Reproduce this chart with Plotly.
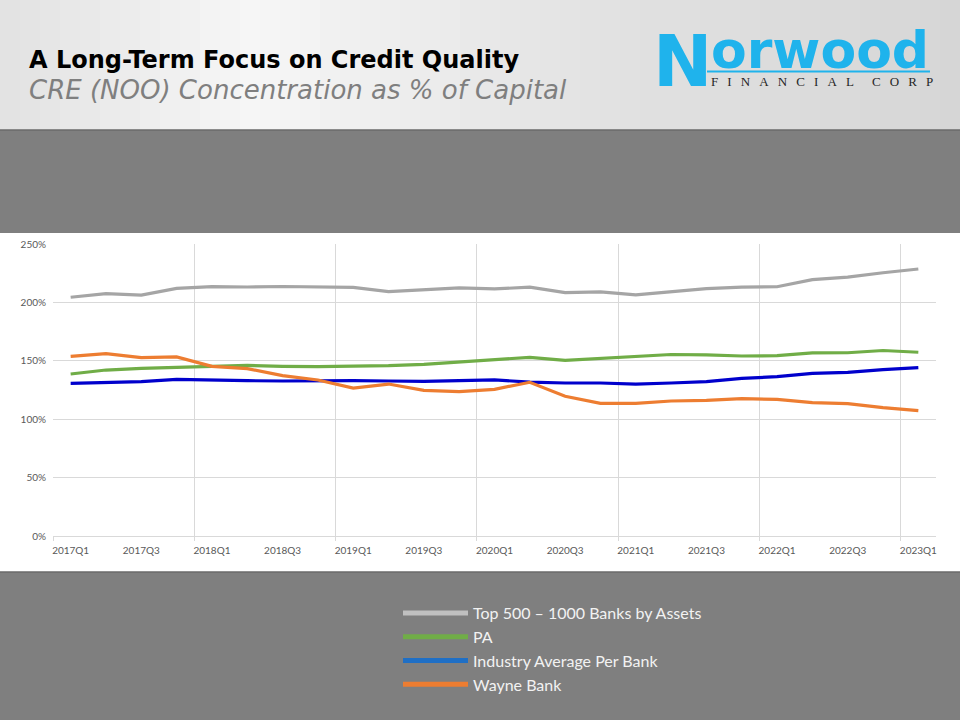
import plotly.graph_objects as go

# ---------------- data ----------------
quarters = ["2017Q1", "2017Q2", "2017Q3", "2017Q4",
            "2018Q1", "2018Q2", "2018Q3", "2018Q4",
            "2019Q1", "2019Q2", "2019Q3", "2019Q4",
            "2020Q1", "2020Q2", "2020Q3", "2020Q4",
            "2021Q1", "2021Q2", "2021Q3", "2021Q4",
            "2022Q1", "2022Q2", "2022Q3", "2022Q4",
            "2023Q1"]

top500 = [204.4, 207.5, 206.3, 212.0, 213.5, 213.2, 213.6, 213.3, 212.8, 209.2,
          210.8, 212.5, 211.6, 213.0, 208.4, 209.0, 206.5, 209.3, 211.8, 213.0,
          213.4, 219.5, 221.6, 225.4, 228.6]
pa = [138.7, 142.1, 143.6, 144.5, 145.0, 146.0, 145.3, 145.0, 145.5, 145.8,
      147.0, 149.0, 151.2, 153.0, 150.4, 152.1, 153.7, 155.4, 155.0, 154.1,
      154.4, 156.7, 156.9, 158.8, 157.3]
industry = [130.7, 131.3, 132.1, 134.1, 133.3, 133.0, 132.7, 133.0, 133.0, 132.7,
            132.4, 133.0, 133.6, 131.8, 131.0, 131.0, 130.1, 131.0, 132.1, 135.0,
            136.4, 139.3, 140.1, 142.4, 144.1]
wayne = [153.8, 156.1, 152.7, 153.3, 145.3, 143.3, 137.3, 133.6, 126.7, 130.1,
         124.7, 123.6, 125.6, 131.6, 119.6, 113.6, 113.6, 115.6, 116.2, 117.6,
         117.0, 114.2, 113.3, 109.9, 107.3]

series_names = ["Top 500 \u2013 1000 Banks by Assets", "PA",
                "Industry Average Per Bank", "Wayne Bank"]
series_values = [top500, pa, industry, wayne]
line_colors = ["#a5a5a5", "#70ad47", "#0000cc", "#ed7d31"]
legend_colors = ["#c0c0c0", "#70ad47", "#1f6fc5", "#ed7d31"]

y_ticks = [0, 50, 100, 150, 200, 250]
title_text = "A Long-Term Focus on Credit Quality"
subtitle_text = "CRE (NOO) Concentration as % of Capital"

# ---------------- geometry helpers ----------------
W, H = 960, 720
L, R, T, B = 53, 936, 244, 536


def px2x(px):
    return (px - L) / (R - L)


def py2y(py):
    return (B - py) / (B - T)


xs = list(range(len(quarters)))

fig = go.Figure()
for name, vals, col in zip(series_names, series_values, line_colors):
    fig.add_trace(go.Scatter(x=xs, y=vals, mode="lines", name=name,
                             line=dict(color=col, width=3.2),
                             showlegend=False))
for name, col in zip(series_names, legend_colors):
    fig.add_trace(go.Scatter(x=[None], y=[None], mode="lines", name=name,
                             line=dict(color=col, width=5), showlegend=True))

shapes = []


def lerp(c1, c2, t):
    return tuple(int(round(a + (b - a) * t)) for a, b in zip(c1, c2))


stops = [(0, (226, 226, 226)), (250, (246, 246, 246)), (600, (226, 226, 226)),
         (960, (214, 214, 214))]
n = 48
for i in range(n):
    x0 = i * W / n
    x1 = (i + 1) * W / n
    xm = (x0 + x1) / 2
    for (a, ca), (b, cb) in zip(stops[:-1], stops[1:]):
        if a <= xm <= b:
            c = lerp(ca, cb, (xm - a) / (b - a))
            break
    shapes.append(dict(type="rect", xref="paper", yref="paper",
                       x0=px2x(x0), x1=px2x(x1 + 0.5), y0=py2y(130), y1=py2y(0),
                       fillcolor="rgb(%d,%d,%d)" % c, line=dict(width=0),
                       layer="below"))
shapes.append(dict(type="rect", xref="paper", yref="paper",
                   x0=px2x(0), x1=px2x(W), y0=py2y(233), y1=py2y(130),
                   fillcolor="#7f7f7f", line=dict(width=0), layer="below"))
shapes.append(dict(type="line", xref="paper", yref="paper",
                   x0=px2x(0), x1=px2x(W), y0=py2y(130), y1=py2y(130),
                   line=dict(color="#6a6a6a", width=1.5), layer="below"))
shapes.append(dict(type="rect", xref="paper", yref="paper",
                   x0=px2x(0), x1=px2x(W), y0=py2y(H), y1=py2y(572),
                   fillcolor="#7f7f7f", line=dict(width=0), layer="below"))
shapes.append(dict(type="line", xref="paper", yref="paper",
                   x0=px2x(0), x1=px2x(W), y0=py2y(572), y1=py2y(572),
                   line=dict(color="#6a6a6a", width=1.5), layer="below"))
shapes.append(dict(type="line", xref="paper", yref="paper",
                   x0=px2x(707), x1=px2x(930), y0=py2y(71.5), y1=py2y(71.5),
                   line=dict(color="#1fb3ec", width=2)))

annotations = [
    dict(text="<b>" + title_text + "</b>", xref="paper", yref="paper",
         x=px2x(27), y=py2y(60), xanchor="left", yanchor="middle",
         showarrow=False, font=dict(family="DejaVu Sans", size=24, color="#000000")),
    dict(text="<i>" + subtitle_text + "</i>", xref="paper", yref="paper",
         x=px2x(27), y=py2y(90), xanchor="left", yanchor="middle",
         showarrow=False, font=dict(family="DejaVu Sans", size=26, color="#7f7f7f")),
    dict(text="<b>N</b>", xref="paper", yref="paper",
         x=px2x(682), y=py2y(61), xanchor="center", yanchor="middle",
         showarrow=False, font=dict(family="DejaVu Sans", size=71, color="#1fb3ec")),
    dict(text="<b>orwood</b>", xref="paper", yref="paper",
         x=px2x(709), y=py2y(50), xanchor="left", yanchor="middle",
         height=44, valign="middle",
         showarrow=False, font=dict(family="DejaVu Sans", size=52, color="#1fb3ec")),
    dict(text="\u2002\u2009".join(list("FINANCIAL")) + "\u2002\u2009\u2002\u2009" +
         "\u2002\u2009".join(list("CORP")),
         xref="paper", yref="paper",
         x=px2x(709), y=py2y(81.5), xanchor="left", yanchor="middle",
         showarrow=False, font=dict(family="Liberation Serif", size=13, color="#262626")),
]

fig.update_layout(
    template="none",
    width=W, height=H,
    margin=dict(l=L, r=W - R, t=T, b=H - B),
    paper_bgcolor="white", plot_bgcolor="white",
    font=dict(family="Lato"),
    shapes=shapes,
    annotations=annotations,
    showlegend=True,
    legend=dict(x=px2x(398), y=py2y(596), xanchor="left", yanchor="top",
                bgcolor="rgba(0,0,0,0)", borderwidth=0,
                font=dict(family="Lato", size=16, color="#f2f2f2"),
                itemwidth=65, tracegroupgap=0),
    xaxis=dict(range=[-0.5, 24.5], tickmode="array", tickvals=xs[::2],
               ticktext=quarters[::2], showgrid=False, zeroline=False,
               showline=True, linecolor="#d9d9d9", linewidth=1, ticks="",
               ticklabelstandoff=5,
               tickfont=dict(family="Lato", size=10, color="#595959"),
               minor=dict(tickmode="array",
                          tickvals=[-0.5, 3.5, 7.5, 11.5, 15.5, 19.5, 23.5],
                          showgrid=True, gridcolor="#d9d9d9", gridwidth=1,
                          ticks="outside", ticklen=4, tickcolor="#d9d9d9")),
    yaxis=dict(range=[0, 250], tickmode="array", tickvals=y_ticks,
               ticktext=[f"{v}%" for v in y_ticks],
               showgrid=True, gridcolor="#d9d9d9", gridwidth=1, zeroline=False,
               showline=False, ticks="", ticklabelstandoff=6,
               tickfont=dict(family="Lato", size=10, color="#595959")),
)

fig.write_html("out.html", config={"displayModeBar": False},
               post_script="document.body.style.margin='0';document.body.style.overflow='hidden';")
